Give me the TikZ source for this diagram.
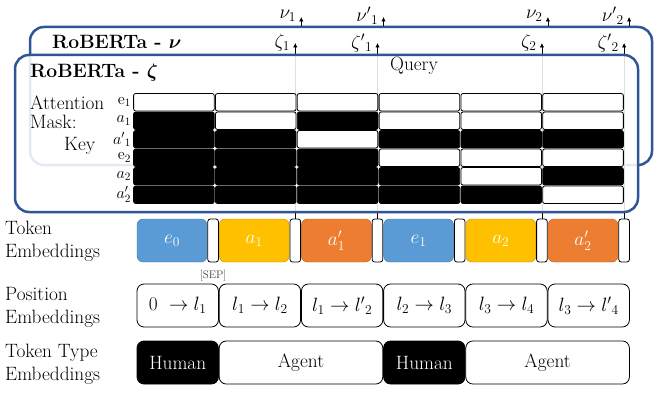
\documentclass[tikz,border=0pt]{standalone}
\usepackage{fix-cm}
\usepackage{amsmath,amssymb}
\usepackage{xcolor}
\usepackage{tikz}
\usetikzlibrary{positioning,arrows.meta,calc}
\definecolor{frameblue}{HTML}{2F5597}
\definecolor{tokblue}{HTML}{5B9BD5}
\definecolor{tokyellow}{HTML}{FFC000}
\definecolor{tokorange}{HTML}{ED7D31}
\colorlet{K}{black}
\colorlet{W}{white}

\begin{document}
\fontsize{19.3}{23}\selectfont
\begin{tikzpicture}[x=1pt, y=-1pt, node distance=0.8pt,
  robbox/.style={draw=frameblue, line width=2.5pt, rounded corners=14pt, inner sep=0pt},
  mcell/.style={draw, line width=0.8pt, rounded corners=2pt, minimum width=80.6pt, minimum height=17.4pt, inner sep=0pt, fill=#1},
  tok/.style={draw=#1!75!black, fill=#1, text=white, rounded corners=6pt, minimum width=70pt, minimum height=43pt, inner sep=0pt, outer sep=0pt},
  sepbox/.style={draw, line width=0.8pt, fill=white, rounded corners=2.5pt, minimum width=10.6pt, minimum height=43pt, inner sep=0pt, outer sep=0pt},
  emb/.style={draw, line width=0.8pt, rounded corners=7pt, minimum width=#1, minimum height=43pt, inner sep=0pt, outer sep=0pt},
  emb/.default=81.4pt,
  arr/.style={-{Latex[length=4.5pt, width=4.5pt]}, line width=0.7pt},
  lab/.style={anchor=west, align=left, inner sep=0pt},
  uplab/.style={anchor=east, inner sep=0pt, xshift=-5pt}]
\useasboundingbox (0,0) rectangle (664,396);
\path (0,43) coordinate (ztop) (0,17) coordinate (ntop);
% outer encoder
\node[robbox, minimum width=622pt, minimum height=138pt] (nubox) at (341,96) {};
\node[lab, font=\bfseries] (nutitle) at (52,42) {RoBERTa - $\boldsymbol{\nu}$};
% token row
\node[tok=tokblue] (e0) at (172,240.5) {$e_0$};
\node[sepbox, right=of e0] (s1) {};
\node[tok=tokyellow, right=of s1] (a1) {$a_1$};
\node[sepbox, right=of a1] (s2) {};
\node[tok=tokorange, right=of s2] (a1p) {$a_1'$};
\node[sepbox, right=of a1p] (s3) {};
\node[tok=tokblue, right=of s3] (e1) {$e_1$};
\node[sepbox, right=of e1] (s4) {};
\node[tok=tokyellow, right=of s4] (a2) {$a_2$};
\node[sepbox, right=of a2] (s5) {};
\node[tok=tokorange, right=of s5] (a2p) {$a_2'$};
\node[sepbox, right=of a2p] (s6) {};
\node[font=\fontsize{11}{13}\selectfont, text=black!75, below=2pt of s1] (seplab) {[SEP]};
% outputs
\draw[arr] (s2.north) -- (s2.north |- ztop) node[uplab]{$\zeta_1$};
\draw[arr] (s3.north) -- (s3.north |- ztop) node[uplab]{$\zeta'{}_1$};
\draw[arr] (s5.north) -- (s5.north |- ztop) node[uplab]{$\zeta_2$};
\draw[arr] (s6.north) -- (s6.north |- ztop) node[uplab]{$\zeta'{}_2$};
\draw[arr] ([xshift=6pt]s2.north |- nubox.north) -- ([xshift=6pt]s2.north |- ntop) node[uplab, yshift=1pt]{$\nu_1$};
\draw[arr] ([xshift=6pt]s3.north |- nubox.north) -- ([xshift=6pt]s3.north |- ntop) node[uplab, yshift=1pt]{$\nu'{}_1$};
\draw[arr] ([xshift=6pt]s5.north |- nubox.north) -- ([xshift=6pt]s5.north |- ntop) node[uplab, yshift=1pt]{$\nu_2$};
\draw[arr] ([xshift=5pt]s6.north |- nubox.north) -- ([xshift=5pt]s6.north |- ntop) node[uplab, yshift=1pt]{$\nu'{}_2$};
% inner encoder
\node[robbox, fill=white, fill opacity=0.88, minimum width=623pt, minimum height=157pt] (zetabox) at (326.5,133.5) {};
\node[lab, font=\bfseries] (zetatitle) at (30,73) {RoBERTa - $\boldsymbol{\zeta}$};
\node (query) at (414,66) {Query};
% attention mask
\foreach \row [count=\r] in {{W,W,W,W,W,W},{K,W,K,W,W,W},{K,K,W,K,K,K},{K,K,K,W,W,W},{K,K,K,K,W,K},{K,K,K,K,K,W}}
  \foreach \v [count=\c] in \row
    \node[mcell=\v] (m\r\c) at ({133+81.83*(\c-0.5)}, {93+18.5*(\r-0.5)}) {};
\foreach \k [count=\r] in {\mathrm{e}_1, a_1, a'{}_1, \mathrm{e}_2, a_2, a_2'}
  \node[anchor=east, inner sep=0pt, xshift=-2pt, font=\fontsize{16}{19}\selectfont] (k\r) at (m\r1.west) {$\k$};
\node[lab] (att) at (30,103) {Attention};
\node[lab] (mask) at (30,122) {Mask:};
\node[lab] (key) at (64,146) {Key};
% position row
\node[emb] (p1) at (177.7,305.5) {$0\ \rightarrow l_1$};
\node[emb, right=of p1] (p2) {$l_1 \rightarrow l_2$};
\node[emb, right=of p2] (p3) {$l_1 \rightarrow l'{}_2$};
\node[emb, right=of p3] (p4) {$l_2 \rightarrow l_3$};
\node[emb, right=of p4] (p5) {$l_3 \rightarrow l_4$};
\node[emb, right=of p5] (p6) {$l_3 \rightarrow l'{}_4$};
% token type row
\node[emb, fill=black, text=white] (h1) at (177.7,362.5) {Human};
\node[emb=163.6pt, right=of h1] (ag1) {Agent};
\node[emb, fill=black, text=white, right=of ag1] (h2) {Human};
\node[emb=163.6pt, right=of h2] (ag2) {Agent};
% row labels
\node[lab] (tokemb) at (5,241) {Token\\Embeddings};
\node[lab] (posemb) at (5,307) {Position\\Embeddings};
\node[lab] (typemb) at (5,364) {Token Type\\Embeddings};
\end{tikzpicture}
\end{document}
